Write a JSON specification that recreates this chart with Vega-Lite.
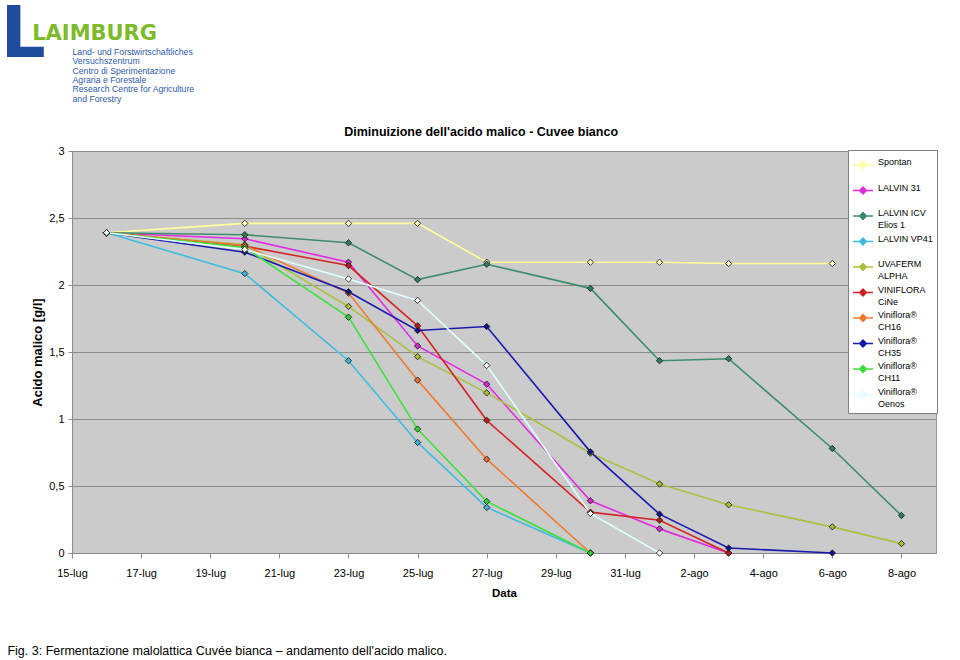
{
  "$schema": "https://vega.github.io/schema/vega-lite/v6.json",
  "background": "white",
  "padding": {"left": 0, "top": 0, "right": 0, "bottom": 0},
  "config": {
    "font": "Liberation Sans",
    "view": {"stroke": null}
  },
  "title": {
    "text": "Fig. 3: Fermentazione malolattica Cuvée bianca – andamento dell'acido malico.",
    "orient": "bottom", "anchor": "start", "frame": "bounds", "dx": 7,
    "fontSize": 12.5, "fontWeight": "normal", "font": "Liberation Sans", "color": "black", "offset": 46
  },
  "resolve": {"legend": {"stroke": "independent", "fill": "independent"}},
  "spacing": 21,
  "vconcat": [
    {
      "width": 1,
      "height": 52,
      "view": {"stroke": null},
      "data": {"values": [{"logo": "LAIMBURG"}]},
      "title": {
        "text": "L",
        "subtitle": "LAIMBURG",
        "orient": "left", "anchor": "end", "frame": "group", "angle": 0, "align": "left",
        "baseline": "line-top", "lineHeight": 29.4,
        "offset": -85,
        "font": "DejaVu Sans", "fontSize": 71, "fontWeight": "bold", "color": "#1F4C9C",
        "subtitleFont": "DejaVu Sans", "subtitleFontSize": 21, "subtitleFontWeight": "bold", "subtitleColor": "#7DBB2B",
        "subtitlePadding": -13.5
      },
      "mark": {
        "type": "text", "align": "left", "baseline": "top",
        "text": ["Land- und Forstwirtschaftliches", "Versuchszentrum", "Centro di Sperimentazione", "Agraria e Forestale", "Research Centre for Agriculture", "and Forestry"],
        "font": "Liberation Sans", "fontSize": 8.7, "lineHeight": 9.3, "color": "#2F5BA8"
      }
    },
    {
      "width": 864,
      "height": 402,
      "view": {"fill": "#CBCBCB", "stroke": "#9A9A9A", "strokeWidth": 1},
      "title": {
        "text": "Diminuizione dell'acido malico - Cuvee bianco",
        "fontSize": 12.5, "fontWeight": "bold", "font": "Liberation Sans", "color": "black",
        "anchor": "middle", "frame": "bounds", "offset": 7, "dx": 8
      },
      "data": {"values": [
        {"series": "Spontan", "date": "2008/07/16", "value": 2.39},
        {"series": "Spontan", "date": "2008/07/20", "value": 2.46},
        {"series": "Spontan", "date": "2008/07/23", "value": 2.46},
        {"series": "Spontan", "date": "2008/07/25", "value": 2.46},
        {"series": "Spontan", "date": "2008/07/27", "value": 2.17},
        {"series": "Spontan", "date": "2008/07/30", "value": 2.17},
        {"series": "Spontan", "date": "2008/08/01", "value": 2.17},
        {"series": "Spontan", "date": "2008/08/03", "value": 2.16},
        {"series": "Spontan", "date": "2008/08/06", "value": 2.16},
        {"series": "LALVIN 31", "date": "2008/07/16", "value": 2.39},
        {"series": "LALVIN 31", "date": "2008/07/20", "value": 2.345},
        {"series": "LALVIN 31", "date": "2008/07/23", "value": 2.17},
        {"series": "LALVIN 31", "date": "2008/07/25", "value": 1.545},
        {"series": "LALVIN 31", "date": "2008/07/27", "value": 1.26},
        {"series": "LALVIN 31", "date": "2008/07/30", "value": 0.39},
        {"series": "LALVIN 31", "date": "2008/08/01", "value": 0.18},
        {"series": "LALVIN 31", "date": "2008/08/03", "value": 0},
        {"series": "LALVIN ICV Elios 1", "date": "2008/07/16", "value": 2.39},
        {"series": "LALVIN ICV Elios 1", "date": "2008/07/20", "value": 2.375},
        {"series": "LALVIN ICV Elios 1", "date": "2008/07/23", "value": 2.315},
        {"series": "LALVIN ICV Elios 1", "date": "2008/07/25", "value": 2.04},
        {"series": "LALVIN ICV Elios 1", "date": "2008/07/27", "value": 2.155},
        {"series": "LALVIN ICV Elios 1", "date": "2008/07/30", "value": 1.975},
        {"series": "LALVIN ICV Elios 1", "date": "2008/08/01", "value": 1.435},
        {"series": "LALVIN ICV Elios 1", "date": "2008/08/03", "value": 1.45},
        {"series": "LALVIN ICV Elios 1", "date": "2008/08/06", "value": 0.78},
        {"series": "LALVIN ICV Elios 1", "date": "2008/08/08", "value": 0.28},
        {"series": "LALVIN VP41", "date": "2008/07/16", "value": 2.39},
        {"series": "LALVIN VP41", "date": "2008/07/20", "value": 2.085},
        {"series": "LALVIN VP41", "date": "2008/07/23", "value": 1.435},
        {"series": "LALVIN VP41", "date": "2008/07/25", "value": 0.825},
        {"series": "LALVIN VP41", "date": "2008/07/27", "value": 0.34},
        {"series": "LALVIN VP41", "date": "2008/07/30", "value": 0},
        {"series": "UVAFERM ALPHA", "date": "2008/07/16", "value": 2.39},
        {"series": "UVAFERM ALPHA", "date": "2008/07/20", "value": 2.3},
        {"series": "UVAFERM ALPHA", "date": "2008/07/23", "value": 1.84},
        {"series": "UVAFERM ALPHA", "date": "2008/07/25", "value": 1.465},
        {"series": "UVAFERM ALPHA", "date": "2008/07/27", "value": 1.195},
        {"series": "UVAFERM ALPHA", "date": "2008/07/30", "value": 0.745},
        {"series": "UVAFERM ALPHA", "date": "2008/08/01", "value": 0.515},
        {"series": "UVAFERM ALPHA", "date": "2008/08/03", "value": 0.36},
        {"series": "UVAFERM ALPHA", "date": "2008/08/06", "value": 0.195},
        {"series": "UVAFERM ALPHA", "date": "2008/08/08", "value": 0.07},
        {"series": "VINIFLORA CiNe", "date": "2008/07/16", "value": 2.39},
        {"series": "VINIFLORA CiNe", "date": "2008/07/20", "value": 2.29},
        {"series": "VINIFLORA CiNe", "date": "2008/07/23", "value": 2.145},
        {"series": "VINIFLORA CiNe", "date": "2008/07/25", "value": 1.695},
        {"series": "VINIFLORA CiNe", "date": "2008/07/27", "value": 0.99},
        {"series": "VINIFLORA CiNe", "date": "2008/07/30", "value": 0.305},
        {"series": "VINIFLORA CiNe", "date": "2008/08/01", "value": 0.245},
        {"series": "VINIFLORA CiNe", "date": "2008/08/03", "value": 0},
        {"series": "Viniflora® CH16", "date": "2008/07/16", "value": 2.39},
        {"series": "Viniflora® CH16", "date": "2008/07/20", "value": 2.295},
        {"series": "Viniflora® CH16", "date": "2008/07/23", "value": 1.94},
        {"series": "Viniflora® CH16", "date": "2008/07/25", "value": 1.29},
        {"series": "Viniflora® CH16", "date": "2008/07/27", "value": 0.7},
        {"series": "Viniflora® CH16", "date": "2008/07/30", "value": 0},
        {"series": "Viniflora® CH35", "date": "2008/07/16", "value": 2.39},
        {"series": "Viniflora® CH35", "date": "2008/07/20", "value": 2.245},
        {"series": "Viniflora® CH35", "date": "2008/07/23", "value": 1.95},
        {"series": "Viniflora® CH35", "date": "2008/07/25", "value": 1.66},
        {"series": "Viniflora® CH35", "date": "2008/07/27", "value": 1.69},
        {"series": "Viniflora® CH35", "date": "2008/07/30", "value": 0.755},
        {"series": "Viniflora® CH35", "date": "2008/08/01", "value": 0.29},
        {"series": "Viniflora® CH35", "date": "2008/08/03", "value": 0.037},
        {"series": "Viniflora® CH35", "date": "2008/08/06", "value": 0},
        {"series": "Viniflora® CH11", "date": "2008/07/16", "value": 2.39},
        {"series": "Viniflora® CH11", "date": "2008/07/20", "value": 2.28},
        {"series": "Viniflora® CH11", "date": "2008/07/23", "value": 1.76},
        {"series": "Viniflora® CH11", "date": "2008/07/25", "value": 0.925},
        {"series": "Viniflora® CH11", "date": "2008/07/27", "value": 0.385},
        {"series": "Viniflora® CH11", "date": "2008/07/30", "value": 0},
        {"series": "Viniflora® Oenos", "date": "2008/07/16", "value": 2.39},
        {"series": "Viniflora® Oenos", "date": "2008/07/20", "value": 2.265},
        {"series": "Viniflora® Oenos", "date": "2008/07/23", "value": 2.045},
        {"series": "Viniflora® Oenos", "date": "2008/07/25", "value": 1.885},
        {"series": "Viniflora® Oenos", "date": "2008/07/27", "value": 1.4},
        {"series": "Viniflora® Oenos", "date": "2008/07/30", "value": 0.295},
        {"series": "Viniflora® Oenos", "date": "2008/08/01", "value": 0}
      ]},
      "encoding": {
        "x": {
          "field": "date", "type": "temporal",
          "scale": {"domain": [{"year": 2008, "month": 7, "date": 15}, {"year": 2008, "month": 8, "date": 9}], "nice": false},
          "axis": {
            "values": [
              {"year": 2008, "month": 7, "date": 15}, {"year": 2008, "month": 7, "date": 17},
              {"year": 2008, "month": 7, "date": 19}, {"year": 2008, "month": 7, "date": 21},
              {"year": 2008, "month": 7, "date": 23}, {"year": 2008, "month": 7, "date": 25},
              {"year": 2008, "month": 7, "date": 27}, {"year": 2008, "month": 7, "date": 29},
              {"year": 2008, "month": 7, "date": 31}, {"year": 2008, "month": 8, "date": 2},
              {"year": 2008, "month": 8, "date": 4}, {"year": 2008, "month": 8, "date": 6},
              {"year": 2008, "month": 8, "date": 8}
            ],
            "labelExpr": "date(datum.value) + '-' + (month(datum.value) == 6 ? 'lug' : 'ago')",
            "title": "Data", "titleFontWeight": "bold", "titleFontSize": 11.5, "titlePadding": 9, "titleColor": "black",
            "labelFontSize": 11, "labelColor": "black", "labelPadding": 9, "labelFlush": false, "labelOverlap": false,
            "tickSize": 5, "tickColor": "#8A8A8A", "domainColor": "#8A8A8A", "grid": false
          }
        },
        "y": {
          "field": "value", "type": "quantitative",
          "scale": {"domain": [0, 3], "nice": false},
          "axis": {
            "values": [0, 0.5, 1, 1.5, 2, 2.5, 3],
            "labelExpr": "replace(format(datum.value, '~g'), '.', ',')",
            "title": ["", "Acido malico [g/l]"], "titleFontSize": 13, "titleFontWeight": "bold", "titleColor": "black",
            "titleLineHeight": 23, "titlePadding": 4,
            "labelFontSize": 11, "labelColor": "black", "labelPadding": 4,
            "tickSize": 4, "tickColor": "#8A8A8A", "domainColor": "#8A8A8A",
            "grid": true, "gridColor": "#8C8C8C", "gridWidth": 1
          }
        }
      },
      "layer": [
        {
          "mark": {"type": "line", "strokeWidth": 1.6},
          "encoding": {
            "stroke": {
              "field": "series", "type": "nominal",
              "scale": {
                "domain": ["Spontan", "LALVIN 31", "LALVIN ICV Elios 1", "LALVIN VP41", "UVAFERM ALPHA", "VINIFLORA CiNe", "Viniflora® CH16", "Viniflora® CH35", "Viniflora® CH11", "Viniflora® Oenos"],
                "range": ["#FFFF99", "#E22AE2", "#3C8E6C", "#3EBCE2", "#A9C23F", "#D42626", "#F07A30", "#1A1AB0", "#40E040", "#DDFFFF"]
              },
              "legend": {
                "title": null, "orient": "none", "legendX": 776, "legendY": -1,
                "fillColor": "white", "strokeColor": "#7F7F7F", "padding": 4,
                "symbolType": "M-1,0L1,0M0,-0.35L0.35,0L0,0.35L-0.35,0Z", "symbolSize": 400, "symbolStrokeWidth": 1.4,
                "labelFontSize": 9, "labelFont": "Liberation Sans", "labelColor": "black", "labelLimit": 200, "labelOffset": 4,
                "labelBaseline": "alphabetic", "rowPadding": 0.5, "gridAlign": "all",
                "labelExpr": "datum.label == 'LALVIN ICV Elios 1' ? ['LALVIN ICV', 'Elios 1'] : datum.label == 'UVAFERM ALPHA' ? ['UVAFERM', 'ALPHA'] : datum.label == 'VINIFLORA CiNe' ? ['VINIFLORA', 'CiNe'] : test(/^Viniflora/, datum.label) ? ['Viniflora®', slice(datum.label, 11)] : [datum.label, '']",
                "encode": {"labels": {"update": {"lineHeight": {"value": 12}}}}
              }
            }
          }
        },
        {
          "mark": {"type": "point", "shape": "diamond", "filled": true, "size": 40, "stroke": "#222222", "strokeWidth": 0.9, "opacity": 1},
          "encoding": {
            "fill": {
              "field": "series", "type": "nominal",
              "scale": {
                "domain": ["Spontan", "LALVIN 31", "LALVIN ICV Elios 1", "LALVIN VP41", "UVAFERM ALPHA", "VINIFLORA CiNe", "Viniflora® CH16", "Viniflora® CH35", "Viniflora® CH11", "Viniflora® Oenos"],
                "range": ["#FFFFCC", "#D428D4", "#2E7C5C", "#3AB4D8", "#A4BE30", "#C01818", "#E8702A", "#101090", "#30D030", "#FFFFFF"]
              },
              "legend": {
                "title": null, "orient": "none", "legendX": 776, "legendY": -1,
                "fillColor": "white", "strokeColor": "#7F7F7F", "padding": 4,
                "symbolType": "M-1,0L1,0M0,-0.35L0.35,0L0,0.35L-0.35,0Z", "symbolSize": 400, "symbolStrokeWidth": 1.4,
                "labelFontSize": 9, "labelFont": "Liberation Sans", "labelColor": "black", "labelLimit": 200, "labelOffset": 4,
                "labelBaseline": "alphabetic", "rowPadding": 0.5, "gridAlign": "all",
                "labelExpr": "datum.label == 'LALVIN ICV Elios 1' ? ['LALVIN ICV', 'Elios 1'] : datum.label == 'UVAFERM ALPHA' ? ['UVAFERM', 'ALPHA'] : datum.label == 'VINIFLORA CiNe' ? ['VINIFLORA', 'CiNe'] : test(/^Viniflora/, datum.label) ? ['Viniflora®', slice(datum.label, 11)] : [datum.label, '']",
                "encode": {"labels": {"update": {"lineHeight": {"value": 12}}}}
              }
            }
          }
        }
      ]
    }
  ]
}
